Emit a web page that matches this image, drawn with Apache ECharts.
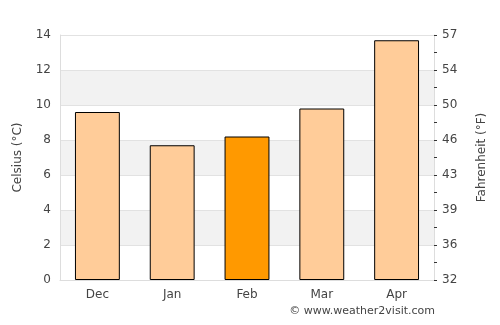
<!DOCTYPE html>
<html>
<head>
<meta charset="utf-8">
<script src="https://cdn.jsdelivr.net/npm/echarts@6/dist/echarts.min.js"></script>
<style>
  html, body { margin: 0; padding: 0; background: #fff; }
  #chart { width: 500px; height: 325px; }
</style>
</head>
<body>
<div id="chart"></div>
<script>
var months = ['Dec', 'Jan', 'Feb', 'Mar', 'Apr'];
var tempC = [9.6, 7.7, 8.2, 9.8, 13.7];
var highlightIndex = 2;

var chart = echarts.init(document.getElementById('chart'));
var font = 'DejaVu Sans';

var barData = tempC.map(function (v, i) {
    return {
        value: v,
        itemStyle: { color: i == highlightIndex ? '#ff9900' : '#ffcc99' }
    };
});

var option = {
    animation: false,
    textStyle: { fontFamily: font },
    grid: { left: 60, right: 66, top: 35, bottom: 45 },
    xAxis: {
        type: 'category',
        data: months,
        axisLine: { lineStyle: { color: '#dddddd' } },
        axisTick: { show: false },
        axisLabel: { color: '#444', fontSize: 12, margin: 9, fontFamily: font }
    },
    yAxis: [
        {
            type: 'value',
            min: 0, max: 14, interval: 2,
            name: 'Celsius (°C)',
            nameLocation: 'middle',
            nameGap: 36,
            nameTextStyle: { color: '#444', fontSize: 12, fontFamily: font },
            axisLine: { show: true, lineStyle: { color: '#dddddd' } },
            axisTick: { show: false },
            axisLabel: { color: '#444', fontSize: 12, margin: 9, fontFamily: font },
            splitLine: { lineStyle: { color: '#e2e2e2' } },
            splitArea: { show: true, areaStyle: { color: ['rgba(0,0,0,0)', '#f2f2f2'] } }
        },
        {
            type: 'value',
            min: 0, max: 14, interval: 2,
            position: 'right',
            name: 'Fahrenheit (°F)',
            nameLocation: 'middle',
            nameGap: 42,
            nameRotate: 90,
            nameTextStyle: { color: '#444', fontSize: 12, fontFamily: font },
            axisLine: { show: true, lineStyle: { color: '#dddddd' } },
            axisTick: { show: true, length: 3, lineStyle: { color: '#333' } },
            minorTick: { show: true, splitNumber: 2, length: 3, lineStyle: { color: '#333' } },
            axisLabel: {
                color: '#444', fontSize: 12, margin: 8, fontFamily: font,
                formatter: function (v) { return Math.round(v * 9 / 5 + 32); }
            },
            splitLine: { show: false }
        }
    ],
    graphic: [{
        type: 'text',
        right: 65,
        top: 306,
        style: { text: '© www.weather2visit.com', fill: '#444', font: '11px "DejaVu Sans"' }
    }],
    series: [{
        type: 'bar',
        data: barData,
        barWidth: '60%',
        itemStyle: { borderColor: '#000', borderWidth: 1 }
    }]
};

chart.setOption(option);
</script>
</body>
</html>
